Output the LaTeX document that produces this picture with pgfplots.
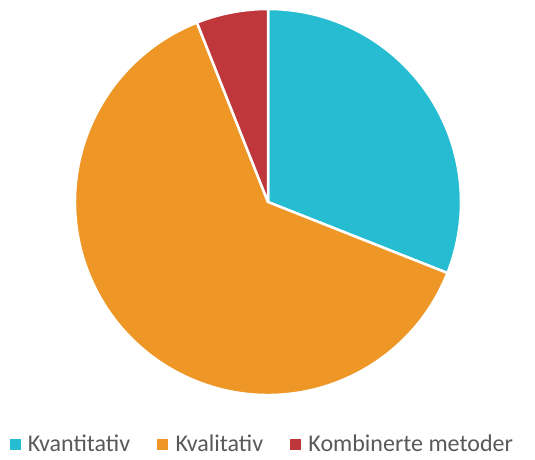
\documentclass[border=0pt]{standalone}
\usepackage{pgfplots}
\pgfplotsset{compat=1.18}
\usepackage{pgfplotstable}
\usepackage{fontspec}
\setmainfont{Carlito}
\definecolor{ckvant}{HTML}{26BCD1}
\definecolor{ckval}{HTML}{EE9626}
\definecolor{ckomb}{HTML}{C0373B}
\definecolor{ctext}{HTML}{595959}
\pgfplotstableread{
name value
Kvantitativ 31
Kvalitativ 63
Kombinerte 6
}\piedata
\begin{document}
\begin{tikzpicture}
\begin{axis}[
  hide axis, scale only axis, width=386pt, height=386pt,
  xmin=-1, xmax=1, ymin=-1, ymax=1, clip=false,
  legend columns=3,
  legend style={draw=none, fill=none, at={(0.485,-0.127)}, anchor=center,
    font=\fontsize{24}{27}\selectfont\color{ctext},
    /tikz/every even column/.append style={column sep=25pt},
    inner sep=0pt},
  legend image code/.code={\fill[#1] (0pt,-5pt) rectangle (10pt,5pt); \path (16pt,0pt);},
]
\addlegendimage{ckvant}\addlegendentry{Kvantitativ}
\addlegendimage{ckval}\addlegendentry{Kvalitativ}
\addlegendimage{ckomb}\addlegendentry{Kombinerte metoder}
\pgfmathsetmacro{\va}{31}
\pgfmathsetmacro{\vb}{63}
\pgfmathsetmacro{\vc}{6}
\pgfmathsetmacro{\aa}{90}
\pgfmathsetmacro{\ab}{90-3.6*\va}
\pgfmathsetmacro{\ac}{\ab-3.6*\vb}
\pgfmathsetmacro{\ad}{\ac-3.6*\vc}
\fill[ckvant, draw=white, line width=2.5pt, line join=round] (axis cs:0,0) -- ({cos(\aa)},{sin(\aa)}) arc[start angle=\aa, end angle=\ab, radius=1] -- cycle;
\fill[ckval, draw=white, line width=2.5pt, line join=round] (axis cs:0,0) -- ({cos(\ab)},{sin(\ab)}) arc[start angle=\ab, end angle=\ac, radius=1] -- cycle;
\fill[ckomb, draw=white, line width=2.5pt, line join=round] (axis cs:0,0) -- ({cos(\ac)},{sin(\ac)}) arc[start angle=\ac, end angle=\ad, radius=1] -- cycle;
\end{axis}
\path[use as bounding box] (-75pt,-65pt) rectangle (460pt,395pt);
\end{tikzpicture}
\end{document}
